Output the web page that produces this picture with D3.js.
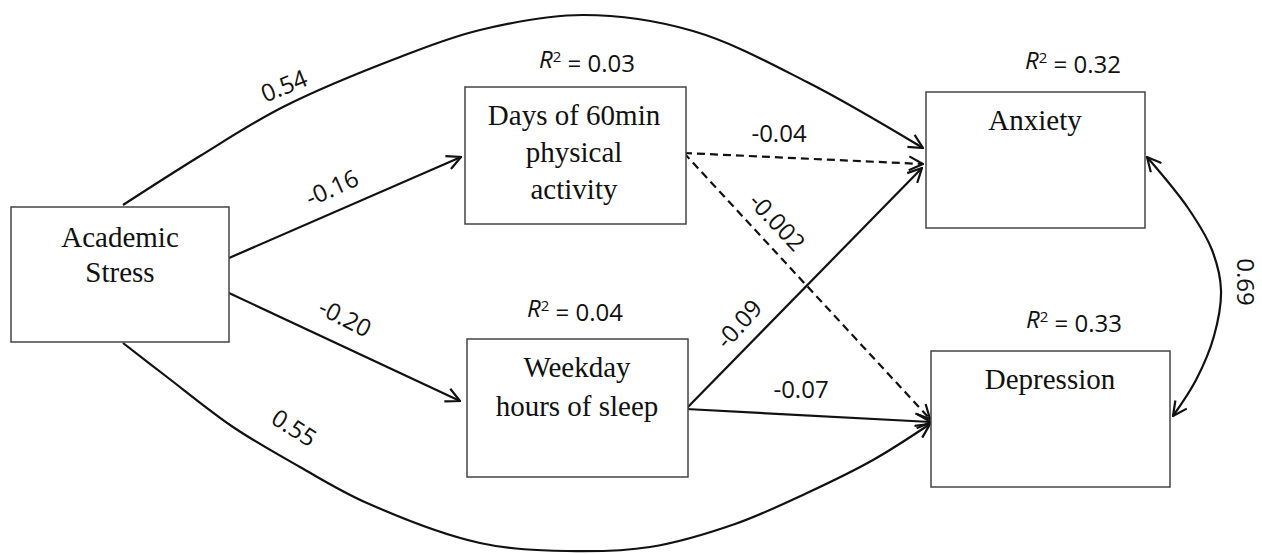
<!DOCTYPE html>
<html lang="en">
<head>
<meta charset="UTF-8">
<title>path model</title>
<script src="https://d3js.org/d3.v7.min.js"></script>
<style>
  * { margin: 0; padding: 0; }
  body { background: #fff; }
  .box { fill: #fff; stroke: #444; stroke-width: 1.5; }
  .boxtext { font-family: "Liberation Serif", "Times New Roman", serif; font-size: 29px; fill: #111; }
  .lab { font-family: "Open Sans", "Noto Sans", sans-serif; font-size: 24px; fill: #111; }
  .edge { fill: none; stroke: #111; stroke-width: 2.2; }
</style>
</head>
<body>
<script>
// ---- data ----
var nodeLabels = [["Academic", "Stress"], ["Days of 60min", "physical", "activity"],
                  ["Weekday", "hours of sleep"], ["Anxiety"], ["Depression"]];
var rSquared = [null, "0.03", "0.04", "0.32", "0.33"];

var pathFrom = [0, 0, 0, 0, 1, 1, 2, 2];
var pathTo   = [3, 1, 2, 4, 3, 4, 3, 4];
var pathCoef = ["0.54", "-0.16", "-0.20", "0.55", "-0.04", "-0.002", "-0.09", "-0.07"];
var pathSig  = [true, true, true, true, false, false, true, true];
var covLabel = "0.69";

// ---- layout (diagram geometry) ----
var width = 1262, height = 554;
var boxes = [
  {x: 11,  y: 207, w: 218, h: 135, tx: 120,  ty: [237, 272]},
  {x: 465, y: 87,  w: 221, h: 137, tx: 574,  ty: [115, 152, 189]},
  {x: 467, y: 339, w: 221, h: 138, tx: 577,  ty: [367, 406]},
  {x: 926, y: 92,  w: 219, h: 136, tx: 1035, ty: [120]},
  {x: 931, y: 351, w: 239, h: 136, tx: 1050, ty: [379]}
];
var r2Pos = [null, [587, 60], [575, 309], [1073, 61], [1074, 320]];

// through-points of each path, in the same order as pathCoef
var pathPoints = [
  [[123,205],[200,156],[283,107],[400,57],[480,30],[583,15],[693,31],[807,82],[923,148]],
  [[229,258],[461,157]],
  [[229,293],[460,401]],
  [[123,343],[167,377],[233,427],[300,467],[367,503],[480,543],[567,551],[650,547],[735,524],[807,493],[873,460],[930,424]],
  [[684,153],[923,164]],
  [[684,153],[930,419]],
  [[686,409],[922,168]],
  [[686,409],[931,422]]
];
var labelPos = [[284,86,-22],[332,188,-24],[345,318,27],[294,428,32],
                [779,134,0],[777,222,47],[739,324,-48],[801,390,0]];
var covPoints = [[1147,157],[1188,208],[1212,250],[1221,290],[1214,336],[1196,380],[1173,416]];
var covLabelPos = [1245, 282, 90];

var svg = d3.select("body").append("svg")
  .attr("width", width)
  .attr("height", height);

var defs = svg.append("defs");
defs.append("marker")
  .attr("id", "arrow")
  .attr("viewBox", "0 -8 16 16")
  .attr("refX", 15).attr("refY", 0)
  .attr("markerWidth", 16).attr("markerHeight", 16)
  .attr("markerUnits", "userSpaceOnUse")
  .attr("orient", "auto-start-reverse")
  .append("path")
  .attr("d", "M1,-7 L15,0 L1,7")
  .attr("fill", "none")
  .attr("stroke", "#111")
  .attr("stroke-width", 2.2);

var curve = d3.line().curve(d3.curveCatmullRom.alpha(0.5));

// paths
svg.selectAll("path.edge")
  .data(pathCoef)
  .enter()
  .append("path")
  .attr("class", "edge")
  .attr("d", function(d, i) { return curve(pathPoints[i]); })
  .attr("stroke-dasharray", function(d, i) { return pathSig[i] ? null : "8,5"; })
  .attr("marker-end", "url(#arrow)");

// covariance
svg.append("path")
  .attr("class", "edge")
  .attr("d", curve(covPoints))
  .attr("marker-start", "url(#arrow)")
  .attr("marker-end", "url(#arrow)");

// boxes
var g = svg.selectAll("g.node")
  .data(nodeLabels)
  .enter()
  .append("g")
  .attr("class", "node");

g.append("rect")
  .attr("class", "box")
  .attr("x", function(d, i) { return boxes[i].x; })
  .attr("y", function(d, i) { return boxes[i].y; })
  .attr("width", function(d, i) { return boxes[i].w; })
  .attr("height", function(d, i) { return boxes[i].h; });

g.each(function(d, i) {
  var b = boxes[i];
  d3.select(this).selectAll("text")
    .data(d)
    .enter()
    .append("text")
    .attr("class", "boxtext")
    .attr("x", b.tx)
    .attr("y", function(t, j) { return b.ty[j]; })
    .attr("dy", "0.35em")
    .attr("text-anchor", "middle")
    .text(function(t) { return t; });
});

// R squared
rSquared.forEach(function(v, i) {
  if (v === null) return;
  var t = svg.append("text")
    .attr("class", "lab")
    .attr("x", r2Pos[i][0])
    .attr("y", r2Pos[i][1])
    .attr("dy", "0.35em")
    .attr("text-anchor", "middle");
  t.append("tspan").style("font-style", "italic").text("R");
  t.append("tspan").attr("dy", "-0.4em").style("font-size", "15px").text("2");
  t.append("tspan").attr("dy", "0.4em").text(" = " + v);
});

// path coefficients
svg.selectAll("text.coef")
  .data(pathCoef)
  .enter()
  .append("text")
  .attr("class", "lab coef")
  .attr("text-anchor", "middle")
  .attr("dy", "0.35em")
  .attr("transform", function(d, i) {
    var p = labelPos[i];
    return "translate(" + p[0] + "," + p[1] + ") rotate(" + p[2] + ")";
  })
  .text(function(d) { return d; });

svg.append("text")
  .attr("class", "lab")
  .attr("text-anchor", "middle")
  .attr("dy", "0.35em")
  .attr("transform", "translate(" + covLabelPos[0] + "," + covLabelPos[1] + ") rotate(" + covLabelPos[2] + ")")
  .text(covLabel);
</script>
</body>
</html>
